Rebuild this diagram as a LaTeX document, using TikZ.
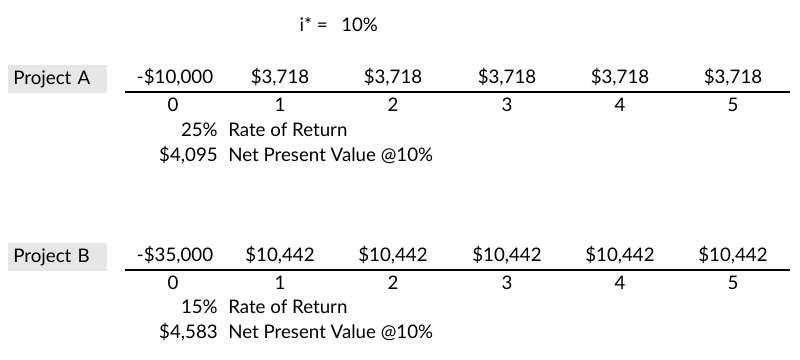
\documentclass[tikz,border=0pt]{standalone}
\usepackage{fontspec}
\setmainfont{Lato}
\definecolor{boxgray}{HTML}{E6E6E6}
\tikzset{
  cell/.style={font=\fontsize{13.3}{15}\selectfont, inner sep=0pt, anchor=mid},
  projbox/.style={cell, fill=boxgray, anchor=west, text width=2.225cm, align=left,
    inner xsep=0.125cm, minimum height=0.7cm},
  timeline/.style={line width=1.4pt}
}
\begin{document}
\begin{tikzpicture}[x=0.025cm,y=-0.025cm]
\useasboundingbox (0,0) rectangle (800,360);

% Interest rate
\node[cell, anchor=mid east] (rate) at (328,28) {i* =};
\node[cell, anchor=mid west] (rateval) at (341,28) {10\%};

% Project A
\node[projbox] (projA) at (8,79) {Project A};
\node[cell] (A0) at (175,80) {-\$10,000};
\foreach \x [count=\i] in {280,393,507,620,733}
  \node[cell] (A\i) at (\x,80) {\$3,718};
\coordinate (Aw) at (125,92);
\coordinate (Ae) at (790,92);
\draw[timeline] (Aw) -- (Ae);
\foreach \x [count=\n from 0] in {173,280,393,507,620,733}
  \node[cell] (yA\n) at (\x,108) {\n};
\node[cell, anchor=mid east] (rorA) at (218,133) {25\%};
\node[cell, anchor=mid west] (rorAlbl) at (228,133) {Rate of Return};
\node[cell, anchor=mid east] (npvA) at (218,158) {\$4,095};
\node[cell, anchor=mid west] (npvAlbl) at (228,158) {Net Present Value @10\%};

% Project B
\node[projbox] (projB) at (8,257) {Project B};
\node[cell] (B0) at (175,258) {-\$35,000};
\foreach \x [count=\i] in {280,393,507,620,733}
  \node[cell] (B\i) at (\x,258) {\$10,442};
\coordinate (Bw) at (125,270);
\coordinate (Be) at (790,270);
\draw[timeline] (Bw) -- (Be);
\foreach \x [count=\n from 0] in {173,280,393,507,620,733}
  \node[cell] (yB\n) at (\x,286) {\n};
\node[cell, anchor=mid east] (rorB) at (218,310) {15\%};
\node[cell, anchor=mid west] (rorBlbl) at (228,310) {Rate of Return};
\node[cell, anchor=mid east] (npvB) at (218,335) {\$4,583};
\node[cell, anchor=mid west] (npvBlbl) at (228,335) {Net Present Value @10\%};

\end{tikzpicture}
\end{document}
